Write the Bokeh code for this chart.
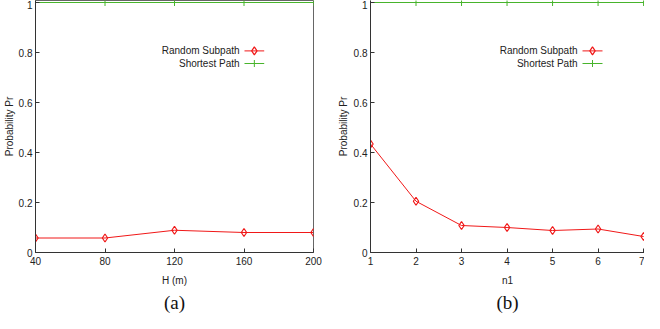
from bokeh.plotting import figure
from bokeh.layouts import row
from bokeh.models import Range1d, FixedTicker, Label, Title
from bokeh.embed import file_html
from bokeh.resources import INLINE

# ---- data ----
h_values = [40, 80, 120, 160, 200]
h_random = [0.058, 0.058, 0.089, 0.080, 0.080]
h_shortest = [1, 1, 1, 1, 1]

n1_values = [1, 2, 3, 4, 5, 6, 7]
n1_random = [0.434, 0.205, 0.108, 0.100, 0.088, 0.094, 0.064]
n1_shortest = [1, 1, 1, 1, 1, 1, 1]

y_ticks = [0, 0.2, 0.4, 0.6, 0.8, 1]
y_tick_labels = {0: "0", 0.2: "0.2", 0.4: "0.4", 0.6: "0.6", 0.8: "0.8", 1: "1"}
legend_labels = ["Random Subpath", "Shortest Path"]

RED = "#f01818"
GREEN = "#48b42c"
FONT = "Liberation Sans"
FIG_H = 313


def make_panel(xs, rnd, sp, x_range, x_ticks, xlabel, caption, width,
               left_border, right_border, caption_offset, ylab_standoff,
               outline):
    frame_w = width - left_border - right_border
    p = figure(width=width, height=FIG_H, output_backend="svg",
               toolbar_location=None, x_range=x_range,
               y_range=Range1d(0, 1.008),
               min_border_left=left_border, min_border_right=right_border,
               min_border_top=0, min_border_bottom=40)
    p.outline_line_color = "#666666" if outline else None
    p.outline_line_width = 1
    p.grid.grid_line_color = None
    p.background_fill_color = "white"

    for ax in (p.xaxis[0], p.yaxis[0]):
        ax.axis_line_color = "#333333"
        ax.major_tick_line_color = "#333333"
        ax.major_tick_in = 4
        ax.major_tick_out = 0
        ax.minor_tick_line_color = None
        ax.major_label_text_font = FONT
        ax.major_label_text_font_size = "10px"
        ax.major_label_text_color = "#222222"
        ax.axis_label_text_font = FONT
        ax.axis_label_text_font_size = "10px"
        ax.axis_label_text_font_style = "normal"
        ax.axis_label_text_color = "#222222"
    p.xaxis.ticker = FixedTicker(ticks=x_ticks)
    p.xaxis.major_label_standoff = 4
    p.xaxis.axis_label = xlabel
    p.xaxis.axis_label_standoff = 7
    p.yaxis.ticker = FixedTicker(ticks=y_ticks)
    p.yaxis.major_label_overrides = y_tick_labels
    p.yaxis.major_label_standoff = 3
    p.yaxis.axis_label = "Probability Pr"
    p.yaxis.axis_label_standoff = ylab_standoff

    # series
    p.line(xs, sp, line_color=GREEN, line_width=1)
    p.scatter(xs, sp, marker="cross", size=7, line_color=GREEN, line_width=1)
    p.line(xs, rnd, line_color=RED, line_width=1)
    p.scatter(xs, rnd, marker="diamond", size=8, line_color=RED,
              fill_color=None, line_width=1.2)

    # legend (positions as fractions of the frame, in a helper range)
    p.extra_x_ranges = {"px": Range1d(0, frame_w)}
    p.extra_y_ranges = {"px": Range1d(0, 1)}
    rows_y = [0.80, 0.75]
    colors = [RED, GREEN]
    markers = ["diamond", "cross"]
    for lab, yy, c, m in zip(legend_labels, rows_y, colors, markers):
        p.add_layout(Label(x=207, y=yy, x_range_name="px", y_range_name="px",
                           text=lab, text_align="right",
                           text_baseline="middle", text_font=FONT,
                           text_font_size="10px", text_color="#222222"))
        p.line([212, 232], [yy, yy], x_range_name="px", y_range_name="px",
               line_color=c, line_width=1)
        p.scatter([222], [yy], x_range_name="px", y_range_name="px",
                  marker=m, size=8 if m == "diamond" else 7, line_color=c,
                  fill_color=None, line_width=1.2 if m == "diamond" else 1)

    # caption below the panel
    cap = Title(text=caption, align="center", text_font="Liberation Serif",
                text_font_size="19px", text_font_style="normal",
                text_color="#111111", offset=caption_offset, standoff=2)
    p.add_layout(cap, "below")
    return p


p1 = make_panel(h_values, h_random, h_shortest, Range1d(40, 200), h_values,
                "H (m)", "(a)", 322, 31, 9, -12, 1, True)
p2 = make_panel(n1_values, n1_random, n1_shortest, Range1d(1, 7.02),
                n1_values, "n1", "(b)", 322, 48, 0, -7, 2, False)

layout = row(p1, p2)
open("out.html", "w").write(file_html(layout, INLINE))
